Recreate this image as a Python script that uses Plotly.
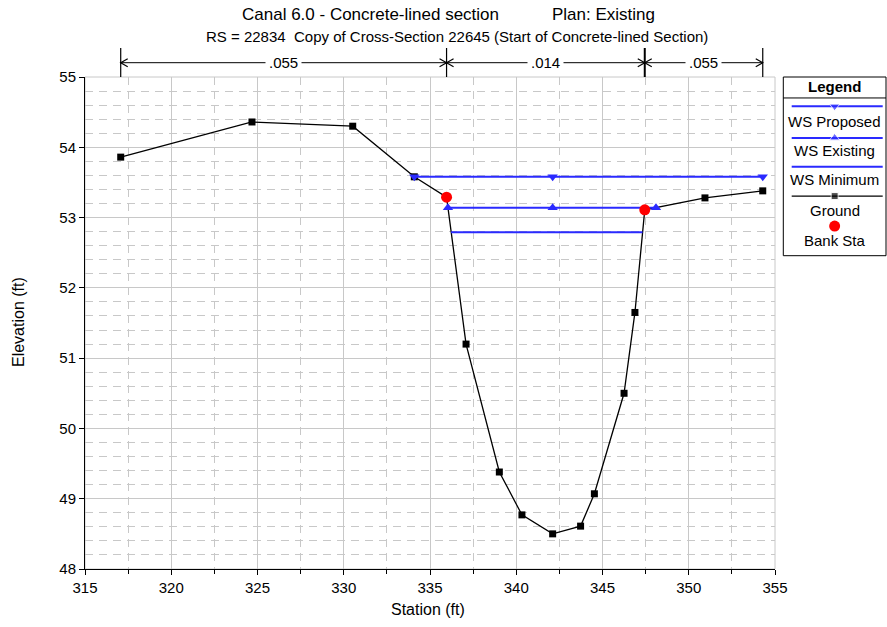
import plotly.graph_objects as go

# ---- cross-section data -------------------------------------------------
ground_sta = [317.07, 324.68, 330.52, 334.09, 335.96, 337.09, 339.02, 340.33,
              342.11, 343.73, 344.53, 346.25, 346.88, 347.45, 350.94, 354.29]
ground_elev = [53.86, 54.36, 54.30, 53.58, 53.29, 51.20, 49.38, 48.77,
               48.50, 48.61, 49.07, 50.50, 51.65, 53.11, 53.28, 53.38]

bank_sta = [335.96, 347.45]
bank_elev = [53.29, 53.11]

ws_proposed_sta = [334.09, 342.11, 354.29]
ws_proposed_elev = [53.58, 53.58, 53.58]

ws_existing_sta = [336.04, 342.11, 348.10]
ws_existing_elev = [53.14, 53.14, 53.14]

ws_minimum_sta = [336.22, 347.32]
ws_minimum_elev = [52.79, 52.79]

mannings_n = [0.055, 0.014, 0.055]

x_ticks = [315, 320, 325, 330, 335, 340, 345, 350, 355]
y_ticks = [48, 49, 50, 51, 52, 53, 54, 55]

# ---- styling ------------------------------------------------------------
FONT = "Liberation Sans, Arial, sans-serif"
BLUE = "#2a2aff"
GRID = "#c8c8c8"
W, H = 887, 627
ML, MR, MT, MB = 85, 1, 77, 58
PW, PH = W - ML - MR, H - MT - MB  # paper size in px

fig = go.Figure()

fig.add_trace(go.Scatter(
    x=ground_sta, y=ground_elev, mode="lines+markers",
    line=dict(color="black", width=1.3),
    marker=dict(symbol="square", size=7, color="black"),
    showlegend=False, hoverinfo="skip"))
fig.add_trace(go.Scatter(
    x=ws_minimum_sta, y=ws_minimum_elev, mode="lines",
    line=dict(color=BLUE, width=2), showlegend=False, hoverinfo="skip"))
fig.add_trace(go.Scatter(
    x=ws_existing_sta, y=ws_existing_elev, mode="lines+markers",
    line=dict(color=BLUE, width=2),
    marker=dict(symbol="triangle-up", size=9, color=BLUE),
    showlegend=False, hoverinfo="skip"))
fig.add_trace(go.Scatter(
    x=ws_proposed_sta, y=ws_proposed_elev, mode="lines+markers",
    line=dict(color=BLUE, width=2),
    marker=dict(symbol="triangle-down", size=9, color=BLUE),
    showlegend=False, hoverinfo="skip"))
fig.add_trace(go.Scatter(
    x=bank_sta, y=bank_elev, mode="markers",
    marker=dict(symbol="circle", size=11, color="#ff0000"),
    showlegend=False, hoverinfo="skip"))

shapes = []
annotations = []

# plot frame (light grey on top/right)
shapes.append(dict(type="rect", xref="x domain", yref="y domain",
                   x0=0, x1=1, y0=0, y1=1,
                   line=dict(color=GRID, width=1), layer="below"))

# ---- Manning's n bar above the plot -------------------------------------
def py(p):
    """pixel row -> paper y"""
    return (H - MB - p) / PH

n_breaks = [ground_sta[0], bank_sta[0], bank_sta[1], ground_sta[-1]]
y_top, y_bot, y_arr = py(48), py(77), py(62.7)
head_dx = 7 / (690 / 40)     # arrowhead length in station units
head_dy = 4 / PH

for i, xb in enumerate(n_breaks):
    shapes.append(dict(type="line", xref="x", yref="paper",
                       x0=xb, x1=xb, y0=y_bot, y1=y_top,
                       line=dict(color="black", width=2 if i == 2 else 1.2)))

for (xa, xb), n in zip(zip(n_breaks[:-1], n_breaks[1:]), mannings_n):
    shapes.append(dict(type="line", xref="x", yref="paper",
                       x0=xa, x1=xb, y0=y_arr, y1=y_arr,
                       line=dict(color="black", width=1)))
    shapes.append(dict(type="path", xref="x", yref="paper",
                       path=f"M {xa + head_dx},{y_arr + head_dy} L {xa},{y_arr} "
                            f"L {xa + head_dx},{y_arr - head_dy}",
                       line=dict(color="black", width=1.2)))
    shapes.append(dict(type="path", xref="x", yref="paper",
                       path=f"M {xb - head_dx},{y_arr + head_dy} L {xb},{y_arr} "
                            f"L {xb - head_dx},{y_arr - head_dy}",
                       line=dict(color="black", width=1.2)))
    label = f"{n:.3f}".lstrip("0")
    annotations.append(dict(x=(xa + xb) / 2, y=y_arr, xref="x", yref="paper",
                            text=label, showarrow=False, bgcolor="white",
                            borderpad=3, font=dict(size=15, family=FONT),
                            xanchor="center", yanchor="middle"))

# ---- titles ---------------------------------------------------------------
def px(p):
    """pixel column -> paper x"""
    return (p - ML) / PW

annotations.append(dict(x=px(240), y=py(14), xref="paper", yref="paper",
                        text="Canal 6.0 - Concrete-lined section", showarrow=False,
                        xanchor="left", yanchor="middle",
                        font=dict(size=17, family=FONT)))
annotations.append(dict(x=px(550), y=py(14), xref="paper", yref="paper",
                        text="Plan: Existing", showarrow=False,
                        xanchor="left", yanchor="middle",
                        font=dict(size=17, family=FONT)))
annotations.append(dict(x=px(457), y=py(36), xref="paper", yref="paper",
                        text="RS = 22834  Copy of Cross-Section 22645 (Start of Concrete-lined Section)".replace("  ", "\u00a0 "),
                        showarrow=False, xanchor="center", yanchor="middle",
                        font=dict(size=15, family=FONT)))
annotations.append(dict(x=px(428), y=py(609), xref="paper", yref="paper",
                        text="Station (ft)", showarrow=False,
                        xanchor="center", yanchor="middle",
                        font=dict(size=16, family=FONT)))
annotations.append(dict(x=px(18), y=py(322), xref="paper", yref="paper",
                        text="Elevation (ft)", showarrow=False, textangle=-90,
                        xanchor="center", yanchor="middle",
                        font=dict(size=16, family=FONT)))

# ---- legend box (drawn on its own axes, coordinates in px from box corner)
LEG_W, LEG_H = 102.7, 179
shapes.append(dict(type="rect", xref="x2 domain", yref="y2 domain",
                   x0=0, x1=1, y0=0, y1=1, line=dict(color="black", width=1)))
shapes.append(dict(type="line", xref="x2 domain", yref="y2",
                   x0=0, x1=1, y0=21, y1=21, line=dict(color="black", width=1)))
annotations.append(dict(x=LEG_W / 2, y=9.5, xref="x2", yref="y2",
                        text="<b>Legend</b>", showarrow=False,
                        xanchor="center", yanchor="middle",
                        font=dict(size=15, family=FONT)))

legend_items = [
    ("WS Proposed", BLUE, "triangle-down", 9, True, 29.3, 44.3),
    ("WS Existing", BLUE, "triangle-up", 9, True, 61.0, 74.0),
    ("WS Minimum", BLUE, None, 0, True, 90.0, 102.6),
    ("Ground", "black", "square", 7, True, 119.3, 133.3),
    ("Bank Sta", "#ff0000", "circle", 11, False, 149.3, 163.3),
]
for name, color, symbol, msize, has_line, y_sym, y_txt in legend_items:
    if has_line:
        fig.add_trace(go.Scatter(
            x=[8.4, LEG_W / 2, 99.4], y=[y_sym] * 3, xaxis="x2", yaxis="y2",
            mode="lines+markers",
            line=dict(color=color, width=2 if color == BLUE else 1.3),
            marker=dict(symbol=symbol or "circle", size=[0, msize, 0], color=color),
            showlegend=False, hoverinfo="skip"))
    else:
        fig.add_trace(go.Scatter(
            x=[LEG_W / 2], y=[y_sym], xaxis="x2", yaxis="y2", mode="markers",
            marker=dict(symbol=symbol, size=msize, color=color),
            showlegend=False, hoverinfo="skip"))
    annotations.append(dict(x=LEG_W / 2, y=y_txt, xref="x2", yref="y2",
                            text=name, showarrow=False,
                            xanchor="center", yanchor="middle",
                            font=dict(size=15, family=FONT)))

fig.update_layout(
    width=W, height=H, autosize=False,
    margin=dict(l=ML, r=MR, t=MT, b=MB, autoexpand=False),
    plot_bgcolor="white", paper_bgcolor="white",
    font=dict(family=FONT, size=15, color="black"),
    shapes=shapes, annotations=annotations,
    xaxis=dict(domain=[0, 690 / PW], range=[315, 355], automargin=False,
               tickmode="array", tickvals=x_ticks,
               showline=True, linecolor="black", linewidth=1,
               ticks="outside", ticklen=5, tickcolor="black",
               showgrid=True, gridcolor=GRID, gridwidth=1, zeroline=False,
               tickfont=dict(size=15),
               minor=dict(dtick=2.5, tick0=315, ticks="outside", ticklen=4,
                          tickcolor="black", showgrid=True, gridcolor=GRID,
                          griddash="8px,6px")),
    yaxis=dict(range=[48, 55], automargin=False,
               tickmode="array", tickvals=y_ticks,
               showline=True, linecolor="black", linewidth=1,
               ticks="outside", ticklen=5, tickcolor="black",
               showgrid=True, gridcolor=GRID, gridwidth=1, zeroline=False,
               tickfont=dict(size=15),
               minor=dict(dtick=0.2, tick0=48, showgrid=True, gridcolor=GRID,
                          griddash="8px,6px")),
    xaxis2=dict(domain=[(783.3 - ML) / PW, 1], range=[0, LEG_W],
                visible=False, anchor="y2", fixedrange=True, automargin=False),
    yaxis2=dict(domain=[py(255.7), 1], range=[LEG_H, 0],
                visible=False, anchor="x2", fixedrange=True, automargin=False),
)

fig.write_html("out.html")
